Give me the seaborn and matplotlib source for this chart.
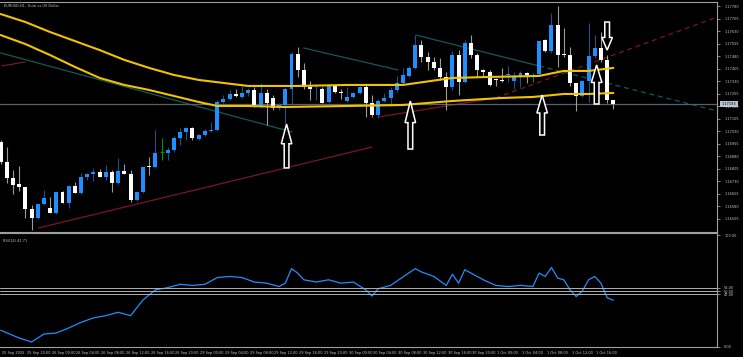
import numpy as np
import matplotlib
matplotlib.use("Agg")
import matplotlib.pyplot as plt
import matplotlib.transforms as mtransforms
from matplotlib.patches import Polygon
import seaborn as sns

# EURUSD H1 candles (bar 0 = 25 Sep 16:00)
opens = [1.16965, 1.16846, 1.16750, 1.16714, 1.16696, 1.16564, 1.16510, 1.16594, 1.16570, 1.16540,
         1.16666, 1.16600, 1.16702, 1.16660, 1.16756, 1.16774, 1.16786, 1.16756, 1.16786, 1.16720,
         1.16792, 1.16774, 1.16618, 1.16666, 1.16822, 1.16816, 1.16906, 1.16900, 1.16918, 1.16989,
         1.17025, 1.17049, 1.16983, 1.17007, 1.17031, 1.17037, 1.17205, 1.17223, 1.17253, 1.17235,
         1.17259, 1.17277, 1.17175, 1.17259, 1.17229, 1.17169, 1.17187, 1.17283, 1.17492, 1.17397,
         1.17295, 1.17280, 1.17283, 1.17205, 1.17301, 1.17265, 1.17211, 1.17235, 1.17259, 1.17295,
         1.17199, 1.17127, 1.17211, 1.17229, 1.17277, 1.17319, 1.17361, 1.17409, 1.17546, 1.17475,
         1.17445, 1.17409, 1.17355, 1.17295, 1.17486, 1.17325, 1.17558, 1.17486, 1.17397, 1.17385,
         1.17340, 1.17337, 1.17367, 1.17331, 1.17355, 1.17379, 1.17367, 1.17373, 1.17576, 1.17510,
         1.17666, 1.17492, 1.17486, 1.17319, 1.17241, 1.17331, 1.17480, 1.17528, 1.17457, 1.17217]
highs = [1.16977, 1.16936, 1.16798, 1.16822, 1.16696, 1.16588, 1.16594, 1.16678, 1.16636, 1.16666,
         1.16672, 1.16702, 1.16726, 1.16780, 1.16780, 1.16810, 1.16804, 1.16828, 1.16798, 1.16870,
         1.16834, 1.16798, 1.16672, 1.16816, 1.16876, 1.17037, 1.16989, 1.16936, 1.17001, 1.17049,
         1.17055, 1.17055, 1.17013, 1.17043, 1.17085, 1.17217, 1.17247, 1.17277, 1.17283, 1.17301,
         1.17289, 1.17295, 1.17319, 1.17283, 1.17247, 1.17199, 1.17295, 1.17504, 1.17534, 1.17439,
         1.17331, 1.17307, 1.17295, 1.17307, 1.17307, 1.17283, 1.17295, 1.17265, 1.17301, 1.17307,
         1.17247, 1.17223, 1.17259, 1.17295, 1.17361, 1.17409, 1.17421, 1.17606, 1.17576, 1.17504,
         1.17475, 1.17469, 1.17385, 1.17510, 1.17516, 1.17576, 1.17606, 1.17498, 1.17403, 1.17397,
         1.17349, 1.17409, 1.17421, 1.17385, 1.17391, 1.17385, 1.17379, 1.17570, 1.17582, 1.17738,
         1.17780, 1.17648, 1.17534, 1.17319, 1.17337, 1.17678, 1.17606, 1.17624, 1.17487, 1.17217]
lows = [1.16834, 1.16720, 1.16654, 1.16672, 1.16510, 1.16438, 1.16504, 1.16588, 1.16540, 1.16534,
        1.16600, 1.16570, 1.16660, 1.16654, 1.16738, 1.16732, 1.16756, 1.16738, 1.16666, 1.16714,
        1.16774, 1.16606, 1.16612, 1.16660, 1.16768, 1.16810, 1.16858, 1.16858, 1.16906, 1.16947,
        1.16977, 1.16977, 1.16977, 1.17001, 1.17025, 1.17031, 1.17199, 1.17217, 1.17235, 1.17229,
        1.17241, 1.17175, 1.17169, 1.17067, 1.17157, 1.17157, 1.17079, 1.17187, 1.17355, 1.17283,
        1.17217, 1.17217, 1.17199, 1.17199, 1.17259, 1.17223, 1.17205, 1.17229, 1.17253, 1.17115,
        1.17115, 1.17109, 1.17205, 1.17181, 1.17265, 1.17313, 1.17355, 1.17403, 1.17445, 1.17397,
        1.17397, 1.17337, 1.17157, 1.17277, 1.17247, 1.17319, 1.17469, 1.17355, 1.17355, 1.17301,
        1.17301, 1.17325, 1.17325, 1.17283, 1.17295, 1.17319, 1.17325, 1.17367, 1.17504, 1.17498,
        1.17415, 1.17475, 1.17301, 1.17151, 1.17235, 1.17205, 1.17469, 1.17445, 1.17199, 1.17163]
closes = [1.16846, 1.16750, 1.16708, 1.16696, 1.16564, 1.16510, 1.16594, 1.16630, 1.16540, 1.16666,
          1.16600, 1.16702, 1.16660, 1.16756, 1.16774, 1.16786, 1.16756, 1.16786, 1.16720, 1.16792,
          1.16774, 1.16618, 1.16666, 1.16816, 1.16816, 1.16900, 1.16906, 1.16918, 1.16989, 1.17025,
          1.17049, 1.16989, 1.17007, 1.17031, 1.17037, 1.17205, 1.17223, 1.17253, 1.17241, 1.17259,
          1.17277, 1.17187, 1.17259, 1.17199, 1.17169, 1.17187, 1.17283, 1.17492, 1.17397, 1.17295,
          1.17283, 1.17283, 1.17199, 1.17307, 1.17265, 1.17259, 1.17235, 1.17259, 1.17295, 1.17199,
          1.17127, 1.17211, 1.17229, 1.17277, 1.17319, 1.17367, 1.17409, 1.17546, 1.17475, 1.17445,
          1.17409, 1.17355, 1.17295, 1.17486, 1.17325, 1.17558, 1.17486, 1.17397, 1.17385, 1.17307,
          1.17334, 1.17331, 1.17373, 1.17355, 1.17379, 1.17367, 1.17367, 1.17570, 1.17510, 1.17666,
          1.17486, 1.17486, 1.17319, 1.17241, 1.17331, 1.17480, 1.17528, 1.17457, 1.17217, 1.17193]

# moving averages
ma_slow_bars = [0, 4, 8, 12, 16, 20, 24, 28, 32, 40, 48, 56, 65, 73, 79, 87, 91, 95, 99]
ma_slow_vals = [1.17732, 1.17684, 1.17624, 1.17570, 1.17516, 1.17457, 1.17409, 1.17367, 1.17337, 1.17301,
                1.17301, 1.17307, 1.17307, 1.17349, 1.17355, 1.17361, 1.17391, 1.17391, 1.17409]
ma_fast_bars = [0, 4, 8, 12, 16, 20, 24, 28, 32, 35, 40, 46, 56, 65, 69, 73, 81, 86, 91, 95, 99]
ma_fast_vals = [1.17606, 1.17552, 1.17486, 1.17415, 1.17349, 1.17307, 1.17277, 1.17241, 1.17205, 1.17181,
                1.17181, 1.17175, 1.17181, 1.17187, 1.17199, 1.17211, 1.17229, 1.17235, 1.17253, 1.17253,
                1.17259]

# trend lines: (bar0, price0, bar1, price1)
red_lines = [(0.2, 1.17421, 4.0, 1.17445), (6.1, 1.16450, 60.0, 1.16935), (61.0, 1.17115, 80.0, 1.17229)]
red_ray = (80.0, 1.17229, 115.8, 1.17714)
teal_lines = [(0.0, 1.17499, 47.1, 1.17025), (49.0, 1.17528, 64.2, 1.17397), (67.1, 1.17606, 87.0, 1.17421)]
teal_ray = (87.0, 1.17421, 115.8, 1.17151)

# hand-drawn arrows: bar, tip price, tail price
arrow_bars = [46.2, 66.2, 87.5, 96.3, 98.0]
arrow_tips = [1.17073, 1.17211, 1.17247, 1.17427, 1.17516]
arrow_tails = [1.16810, 1.16923, 1.17007, 1.17193, 1.17684]

# RSI(14)
rsi_bars = [0, 3, 5, 7, 9, 11, 13, 15, 17, 19, 21, 23, 25, 27, 29, 31, 33, 35, 37, 39, 41, 43, 45, 46, 47,
            48, 49, 51, 53, 55, 57, 59, 60, 61, 63, 65, 67, 68, 70, 72, 73, 74, 75, 76, 78, 80, 82, 84, 86,
            87, 88, 89, 90, 91, 92, 93, 94, 95, 96, 97, 98, 99]
rsi_vals = [15, 8, 4.5, 11.6, 12.5, 17, 22, 26, 28, 31, 28, 42, 51, 53, 56, 55, 56, 62, 63, 62, 58, 57, 54, 57,
            70, 66, 60, 58, 60, 57, 58, 51, 45.5, 52, 55, 62.5, 70, 67, 63, 55, 65, 57, 69, 66, 60, 55, 54,
            55, 54, 66, 63, 71, 61.6, 60, 51, 45, 50, 60, 63, 57, 44, 41.71]
rsi_levels = [53, 50, 47]

price_ticks = [1.17780, 1.17705, 1.17630, 1.17555, 1.17480, 1.17405, 1.17330, 1.17255, 1.17180, 1.17105,
               1.17030, 1.16955, 1.16880, 1.16805, 1.16730, 1.16655, 1.16580, 1.16505]
time_labels = ["25 Sep 2025", "25 Sep 20:00", "26 Sep 00:00", "26 Sep 04:00", "26 Sep 08:00",
               "26 Sep 12:00", "26 Sep 16:00", "26 Sep 20:00", "29 Sep 00:00", "29 Sep 04:00",
               "29 Sep 08:00", "29 Sep 12:00", "29 Sep 16:00", "29 Sep 20:00", "30 Sep 00:00",
               "30 Sep 04:00", "30 Sep 08:00", "30 Sep 12:00", "30 Sep 16:00", "30 Sep 20:00",
               "1 Oct 00:00", "1 Oct 04:00", "1 Oct 08:00", "1 Oct 12:00", "1 Oct 16:00"]
time_bars = list(range(0, 100, 4))

sns.set_style("dark")
plt.rcParams['font.family'] = ['DejaVu Sans']
txt = '#c8c8c8'
frame = '#a0a0a0'
fs = 2.5

fig = plt.figure(figsize=(7.43, 3.57), dpi=100, facecolor='black')
ax = fig.add_axes([0.0, 1 - 232 / 357, 717 / 743, 230 / 357])
ax_rsi = fig.add_axes([0.0, 1 - 347 / 357, 717 / 743, 114 / 357], sharex=ax)

for a in (ax, ax_rsi):
    a.set_facecolor('black')
    a.grid(False)
    a.spines['left'].set_visible(False)
    for s in ('top', 'bottom', 'right'):
        a.spines[s].set_color(frame)
        a.spines[s].set_linewidth(0.8)
    a.yaxis.tick_right()
    a.tick_params(axis='y', colors=frame, labelcolor=txt, labelsize=fs, length=2.2, width=0.6, pad=3)

# candles
o = np.array(opens)
h = np.array(highs)
l = np.array(lows)
c = np.array(closes)
x = np.arange(len(c))
up = c > o
dn = c < o
flat = c == o
lo = np.minimum(o, c)
hgt = np.maximum(np.abs(c - o), 0.00005)
ax.vlines(x[up], l[up], h[up], color='#1c4f8c', lw=0.8, zorder=2)
ax.vlines(x[dn], l[dn], h[dn], color='#9a9a9a', lw=0.8, zorder=2)
ax.vlines(x[flat], l[flat], h[flat], color='#0c8a0c', lw=0.8, zorder=2)
ax.bar(x[up], hgt[up], bottom=lo[up], width=0.64, color='#1e8fff', lw=0, zorder=3)
ax.bar(x[dn], hgt[dn], bottom=lo[dn], width=0.64, color='white', lw=0, zorder=3)
ax.hlines(o[flat], x[flat] - 0.32, x[flat] + 0.32, color='#0c8a0c', lw=0.9, zorder=3)

# moving averages
sns.lineplot(x=ma_slow_bars, y=ma_slow_vals, ax=ax, color='#f2c200', lw=1.5, zorder=4)
sns.lineplot(x=ma_fast_bars, y=ma_fast_vals, ax=ax, color='#f2c200', lw=1.5, zorder=4)

# trend lines
for b0, p0, b1, p1 in red_lines:
    ax.plot([b0, b1], [p0, p1], color='#7c1426', lw=0.9, zorder=1)
ax.plot(red_ray[::2], red_ray[1::2], color='#7c1426', lw=0.9, ls=(0, (4, 3)), zorder=1)
for b0, p0, b1, p1 in teal_lines:
    ax.plot([b0, b1], [p0, p1], color='#0f5a5a', lw=0.9, zorder=1)
ax.plot(teal_ray[::2], teal_ray[1::2], color='#0f5a5a', lw=0.9, ls=(0, (4, 3)), zorder=1)

# bid line and price box
ax.axhline(closes[-1], color='#56606c', lw=0.9, zorder=1)
trans = mtransforms.blended_transform_factory(ax.transAxes, ax.transData)
ax.text(1.0065, closes[-1], f"{closes[-1]:.5f}", transform=trans, fontsize=fs, color='black',
        va='center', ha='left', zorder=10, clip_on=False,
        bbox=dict(boxstyle='square,pad=0.35', fc='#b9c3d6', ec='none'))

# arrows
for bx, tip, tail in zip(arrow_bars, arrow_tips, arrow_tails):
    hb = tip - 0.45 * (tip - tail)
    hw, sw = 0.85, 0.38
    pts = [(bx, tip), (bx + hw, hb), (bx + sw, hb), (bx + sw, tail),
           (bx - sw, tail), (bx - sw, hb), (bx - hw, hb)]
    ax.add_patch(Polygon(pts, closed=True, fc='black', ec='white', lw=1.1, zorder=6))

ax.set_ylim(1.16426, 1.17804)
ax.set_xlim(-0.1, 115.75)
ax.set_yticks(price_ticks)
ax.set_yticklabels([f"{p:.5f}" for p in price_ticks])
ax.tick_params(axis='x', bottom=False, labelbottom=False)
ax.set_xlabel('')
ax.set_ylabel('')
ax.text(0.005, 0.99, "EURUSD,H1:  Euro vs US Dollar", transform=ax.transAxes, fontsize=fs,
        color=txt, va='top', ha='left')

# RSI panel
sns.lineplot(x=rsi_bars, y=rsi_vals, ax=ax_rsi, color='#1e8fff', lw=0.9)
for lv in rsi_levels:
    ax_rsi.axhline(lv, color='#b0b0b0', lw=0.7)
ax_rsi.set_ylim(0, 101.8)
ax_rsi.set_yticks([100] + rsi_levels + [0])
ax_rsi.set_yticklabels([f"{v:.2f}" for v in [100] + rsi_levels + [0]])
ax_rsi.set_xticks(time_bars)
ax_rsi.set_xticklabels(time_labels)
ax_rsi.tick_params(axis='x', colors=frame, labelcolor=txt, labelsize=fs, length=2.2, width=0.6, pad=1)
offset = mtransforms.ScaledTranslation(1.5 / 100, 0, fig.dpi_scale_trans)
for lab in ax_rsi.get_xticklabels():
    lab.set_ha('left')
    lab.set_transform(lab.get_transform() + offset)
ax_rsi.set_xlabel('')
ax_rsi.set_ylabel('')
ax_rsi.text(0.004, 0.95, "RSI(14) 41.71", transform=ax_rsi.transAxes, fontsize=fs,
            color=txt, va='top', ha='left')

fig.savefig("out.png", dpi=100, facecolor='black')
